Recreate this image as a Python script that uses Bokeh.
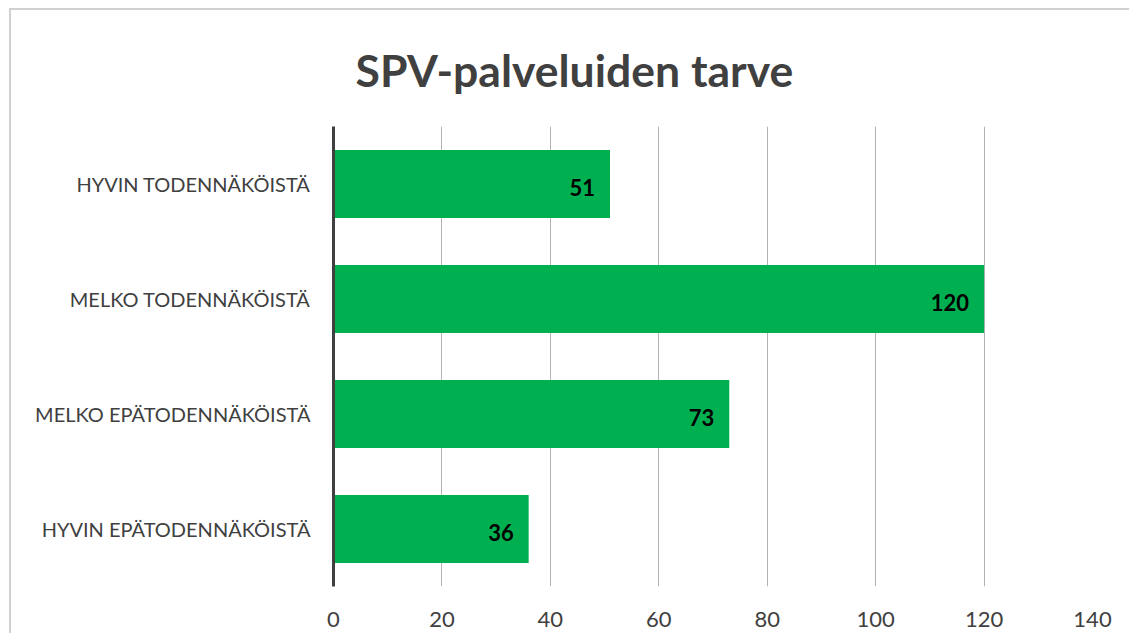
from bokeh.plotting import figure
from bokeh.models import ColumnDataSource, FixedTicker, FactorRange, Range1d
from bokeh.core.properties import value
from bokeh.embed import file_html
from bokeh.resources import INLINE

categories = ["HYVIN TODENNÄKÖISTÄ", "MELKO TODENNÄKÖISTÄ", "MELKO EPÄTODENNÄKÖISTÄ", "HYVIN EPÄTODENNÄKÖISTÄ"]
counts = [51, 120, 73, 36]
x_ticks = [0, 20, 40, 60, 80, 100, 120, 140]
title_text = "SPV-palveluiden tarve"

FONT = "Lato"
GREEN = "#00B050"
TEXT = "#404040"

src = ColumnDataSource(dict(cat=categories, val=counts, lab=[str(v) for v in counts]))

p = figure(
    width=1120, height=625,
    y_range=FactorRange(factors=list(reversed(categories))),
    x_range=Range1d(0, 140),
    output_backend="svg", toolbar_location=None,
    min_border_left=322, min_border_right=39, min_border_top=100, min_border_bottom=49,
)
p.styles = {"border-left": "2px solid #d0d0d0", "border-top": "2px solid #d0d0d0",
            "margin-left": "9px", "margin-top": "8px"}

p.title.text = title_text
p.title.text_font = FONT
p.title.text_font_size = "44.5px"
p.title.text_font_style = "bold"
p.title.text_color = TEXT
p.title.align = "left"
p.title.offset = 22
p.title.standoff = 61

p.outline_line_color = None
p.background_fill_color = "white"
p.border_fill_color = "white"

p.hbar(y="cat", right="val", left=0, height=0.59, source=src, fill_color=GREEN, line_color=None)
p.text(x="val", y="cat", text="lab", source=src, x_offset=-15, y_offset=3,
       text_align="right", text_baseline="middle", text_font=value(FONT),
       text_font_style="bold", text_font_size="22px", text_color="black")

p.xaxis.ticker = FixedTicker(ticks=x_ticks)
p.xaxis.axis_line_color = None
p.xaxis.major_tick_line_color = None
p.xaxis.minor_tick_line_color = None
p.xaxis.major_label_text_font = FONT
p.xaxis.major_label_text_font_size = "22px"
p.xaxis.major_label_text_color = TEXT
p.xaxis.major_label_standoff = 19

p.yaxis.axis_line_color = TEXT
p.yaxis.axis_line_width = 3
p.yaxis.major_tick_line_color = None
p.yaxis.minor_tick_line_color = None
p.yaxis.major_label_text_font = FONT
p.yaxis.major_label_text_font_size = "20px"
p.yaxis.major_label_text_color = TEXT
p.yaxis.major_label_standoff = 17

p.xgrid.ticker = FixedTicker(ticks=x_ticks)
p.xgrid.grid_line_color = "#b3b3b3"
p.xgrid.grid_line_width = 1
p.ygrid.grid_line_color = None

open("out.html", "w").write(file_html(p, INLINE))
